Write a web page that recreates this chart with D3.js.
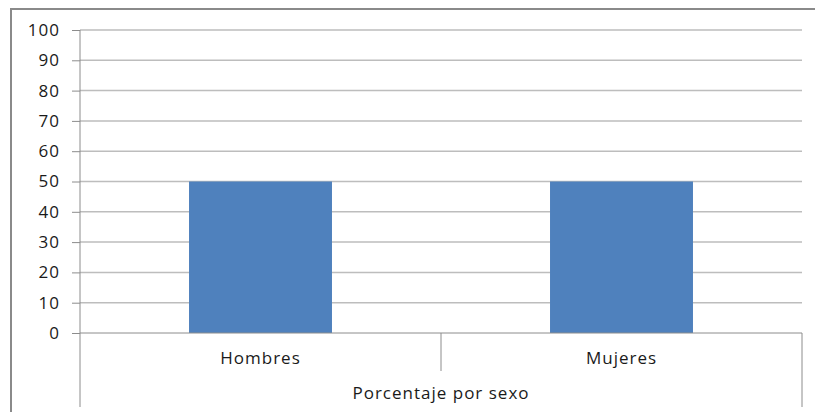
<!DOCTYPE html>
<html><head><meta charset="utf-8">
<script src="https://cdn.jsdelivr.net/npm/d3@7"></script>
<style>body{margin:0;background:#fff;}svg{display:block;}</style>
</head><body>
<script>
const categories = ["Hombres", "Mujeres"];
const values = [50, 50];
const yTicks = [0,10,20,30,40,50,60,70,80,90,100];
const groupLabel = "Porcentaje por sexo";

(function(){
const W = 815, H = 412;
const svg = d3.select("body").append("svg").attr("width", W).attr("height", H);
const font = "'Open Sans', sans-serif";
const fs = 17, ls = 1;

// outer border
svg.append("path").attr("d", `M11,${H} L11,9 L${W},9`).attr("fill","none")
  .attr("stroke","#8a8a8a").attr("stroke-width",2);

const mL = 80, mR = 802, mT = 30, mB = 333;
const y = d3.scaleLinear().domain([0,100]).range([mB, mT]);
const x = d3.scaleBand().domain(categories).range([mL, mR]).padding(0);

// gridlines
svg.append("g").selectAll("line").data(yTicks.filter(d=>d>0)).join("line")
  .attr("x1", mL).attr("x2", mR).attr("y1", d=>y(d)).attr("y2", d=>y(d))
  .attr("stroke","#bdbdbd").attr("stroke-width",1.5);

// bars
const bw = x.bandwidth()*0.396;
svg.append("g").selectAll("rect").data(values).join("rect")
  .attr("x", (d,i)=>x(categories[i]) + (x.bandwidth()-bw)/2)
  .attr("width", bw)
  .attr("y", d=>y(d)).attr("height", d=>y(0)-y(d))
  .attr("fill","#4f81bd");

// y axis
const yAxis = d3.axisLeft(y).tickValues(yTicks).tickSize(8).tickPadding(12);
const ga = svg.append("g").attr("transform",`translate(${mL},0)`).call(yAxis);
ga.select(".domain").remove();
ga.selectAll(".tick line").attr("stroke","#8c8c8c");
ga.selectAll(".tick text").attr("font-family",font).attr("font-size",fs)
  .attr("letter-spacing",ls).attr("fill","#1a1a1a");
svg.append("line").attr("x1",mL).attr("x2",mL).attr("y1",mT).attr("y2",407)
  .attr("stroke","#8c8c8c");

// x axis line
svg.append("line").attr("x1",mL).attr("x2",mR).attr("y1",mB).attr("y2",mB)
  .attr("stroke","#8c8c8c");
// category dividers
svg.append("line").attr("x1",x(categories[1])).attr("x2",x(categories[1])).attr("y1",mB).attr("y2",371)
  .attr("stroke","#8c8c8c");
svg.append("line").attr("x1",mR).attr("x2",mR).attr("y1",mB).attr("y2",407)
  .attr("stroke","#8c8c8c");

// category labels
svg.append("g").selectAll("text").data(categories).join("text")
  .attr("x", d=>x(d)+x.bandwidth()/2).attr("y", 364)
  .attr("text-anchor","middle").attr("font-family",font).attr("font-size",fs)
  .attr("letter-spacing",ls).attr("fill","#1a1a1a")
  .text(d=>d);
svg.append("text").attr("x",(mL+mR)/2).attr("y",399).attr("text-anchor","middle")
  .attr("font-family",font).attr("font-size",fs).attr("letter-spacing",ls)
  .attr("fill","#1a1a1a").text(groupLabel);
})();
</script>
</body></html>
